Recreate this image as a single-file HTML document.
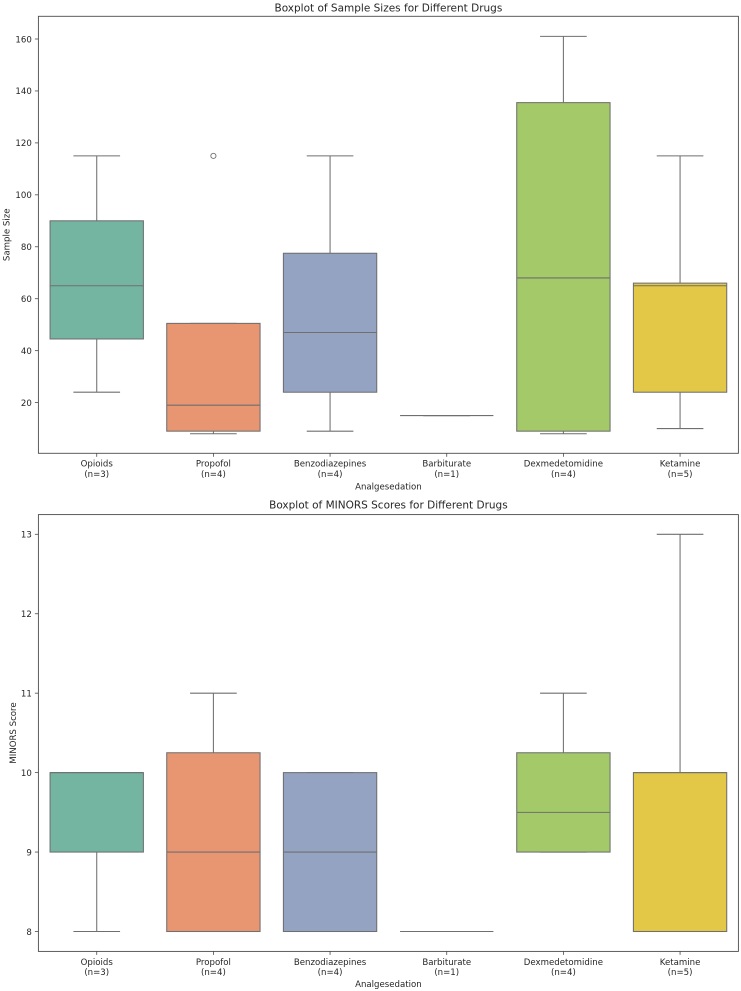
<!DOCTYPE html>
<html>
<head>
<meta charset="utf-8">
<title>Boxplots of Sample Sizes and MINORS Scores</title>
<style>
html,body{margin:0;padding:0;background:#fff;width:741px;height:991px;overflow:hidden}
svg{display:block;filter:blur(0.35px)}
text{font-family:"DejaVu Sans","Liberation Sans",sans-serif;fill:#262626}
</style>
</head>
<body>
<svg id="figure" xmlns="http://www.w3.org/2000/svg" width="741" height="991" viewBox="0 0 741 991"></svg>
<script>
const categories = ["Opioids", "Propofol", "Benzodiazepines", "Barbiturate", "Dexmedetomidine", "Ketamine"];
const counts = [3, 4, 4, 1, 4, 5];
const fillColors = ["#73b5a1", "#e89672", "#94a3c2", "#d5aecb", "#a4c968", "#e3c848"];

const sampleLow = [24, 8, 9, 15, 8, 10];
const sampleQ1 = [44.5, 9, 24, 15, 9, 24];
const sampleMedian = [65, 19, 47, 15, 68, 65];
const sampleQ3 = [90, 50.5, 77.5, 15, 135.5, 66];
const sampleHigh = [115, 50.5, 115, 15, 161, 115];
const sampleOutliers = [[], [115], [], [], [], []];
const sampleTicks = [20, 40, 60, 80, 100, 120, 140, 160];

const minorsLow = [8, 8, 8, 8, 9, 8];
const minorsQ1 = [9, 8, 8, 8, 9, 8];
const minorsMedian = [10, 9, 9, 8, 9.5, 10];
const minorsQ3 = [10, 10.25, 10, 8, 10.25, 10];
const minorsHigh = [10, 11, 10, 8, 11, 13];
const minorsOutliers = [[], [], [], [], [], []];
const minorsTicks = [8, 9, 10, 11, 12, 13];

const svg = document.getElementById('figure');
const NS = 'http://www.w3.org/2000/svg';
const EDGE = '#6f6f6f';
const SPINE = '#4a4a4a';
const LABEL_SIZE = 8.6;
const TITLE_SIZE = 10.5;

function make(tag, attrs, parent) {
  const el = document.createElementNS(NS, tag);
  for (const k in attrs) el.setAttribute(k, attrs[k]);
  parent.appendChild(el);
  return el;
}

function drawPanel(cfg) {
  const panel = make('g', {}, svg);
  
  

  const x = i => cfg.left + (i + 0.5) * (cfg.right - cfg.left) / categories.length;
  const y = v => cfg.y0 + (v - cfg.v0) * (cfg.y1 - cfg.y0) / (cfg.v1 - cfg.v0);
  const band = (cfg.right - cfg.left) / categories.length;

  // y ticks and labels
  cfg.ticks.forEach(t => {
    const tick = make('line', {x1: cfg.left - 3.5, x2: cfg.left, y1: y(t), y2: y(t), stroke: SPINE, 'stroke-width': 0.8}, panel);
    
    
    const label = make('text', {x: cfg.left - 6.6, y: y(t) + 3.3, 'text-anchor': 'end', 'font-size': LABEL_SIZE}, panel);
    
    
    label.textContent = t;
  });

  // boxes
  categories.forEach((c, i) => {
    const g = make('g', {}, panel);
    
    
    const cx = x(i);
    const w = band * 0.8;
    const cap = band * 0.4;
    const line = (x1, x2, y1, y2, sw) => make('line', {x1, x2, y1, y2, stroke: EDGE, 'stroke-width': sw || 1.05}, g);

    line(cx, cx, y(cfg.q3[i]), y(cfg.high[i]));
    line(cx, cx, y(cfg.q1[i]), y(cfg.low[i]));
    line(cx - cap / 2, cx + cap / 2, y(cfg.high[i]), y(cfg.high[i]));
    line(cx - cap / 2, cx + cap / 2, y(cfg.low[i]), y(cfg.low[i]));
    make('rect', {x: cx - w / 2, y: y(cfg.q3[i]), width: w, height: Math.max(0, y(cfg.q1[i]) - y(cfg.q3[i])), fill: fillColors[i], stroke: EDGE, 'stroke-width': 1.05}, g);
    line(cx - w / 2, cx + w / 2, y(cfg.median[i]), y(cfg.median[i]));
    cfg.outliers[i].forEach(v => {
      const p = make('circle', {cx, cy: y(v), r: 2.6, fill: 'none', stroke: EDGE, 'stroke-width': 0.9}, g);
      
      
    });

    const tick = make('line', {x1: cx, x2: cx, y1: cfg.bottom, y2: cfg.bottom + 3.5, stroke: SPINE, 'stroke-width': 0.8}, panel);
    
    
    const l1 = make('text', {x: cx, y: cfg.bottom + 13.4, 'text-anchor': 'middle', 'font-size': LABEL_SIZE}, panel);
    
    
    l1.textContent = c;
    const l2 = make('text', {x: cx, y: cfg.bottom + 23.6, 'text-anchor': 'middle', 'font-size': LABEL_SIZE}, panel);
    
    
    l2.textContent = '(n=' + counts[i] + ')';
  });

  const frame = make('rect', {x: cfg.left, y: cfg.top, width: cfg.right - cfg.left, height: cfg.bottom - cfg.top, fill: 'none', stroke: SPINE, 'stroke-width': 0.9}, panel);
  
  

  const title = make('text', {x: (cfg.left + cfg.right) / 2, y: cfg.top - cfg.titleGap, 'text-anchor': 'middle', 'font-size': TITLE_SIZE}, panel);
  
  
  title.textContent = cfg.title;

  const xTitle = make('text', {x: (cfg.left + cfg.right) / 2, y: cfg.bottom + cfg.xTitleGap, 'text-anchor': 'middle', 'font-size': LABEL_SIZE}, panel);
  
  
  xTitle.textContent = 'Analgesedation';

  const ymid = (cfg.top + cfg.bottom) / 2;
  const yTitle = make('text', {x: cfg.yTitleX, y: ymid, 'text-anchor': 'middle', 'font-size': LABEL_SIZE, transform: 'rotate(-90 ' + cfg.yTitleX + ' ' + ymid + ')'}, panel);
  
  
  yTitle.textContent = cfg.yTitle;
}

drawPanel({
  name: 'sample-size-panel', title: 'Boxplot of Sample Sizes for Different Drugs', yTitle: 'Sample Size',
  left: 38.4, right: 738.4, top: 16.3, bottom: 453.3, yTitleX: 9.5, titleGap: 5, xTitleGap: 36,
  v0: 20, y0: 402.6, v1: 160, y1: 39,
  ticks: sampleTicks, low: sampleLow, q1: sampleQ1, median: sampleMedian, q3: sampleQ3, high: sampleHigh, outliers: sampleOutliers
});
drawPanel({
  name: 'minors-score-panel', title: 'Boxplot of MINORS Scores for Different Drugs', yTitle: 'MINORS Score',
  left: 38.4, right: 738.4, top: 514.6, bottom: 951.4, yTitleX: 16, titleGap: 6, xTitleGap: 35.4,
  v0: 8, y0: 931.5, v1: 13, y1: 534.3,
  ticks: minorsTicks, low: minorsLow, q1: minorsQ1, median: minorsMedian, q3: minorsQ3, high: minorsHigh, outliers: minorsOutliers
});
</script>
</body>
</html>
